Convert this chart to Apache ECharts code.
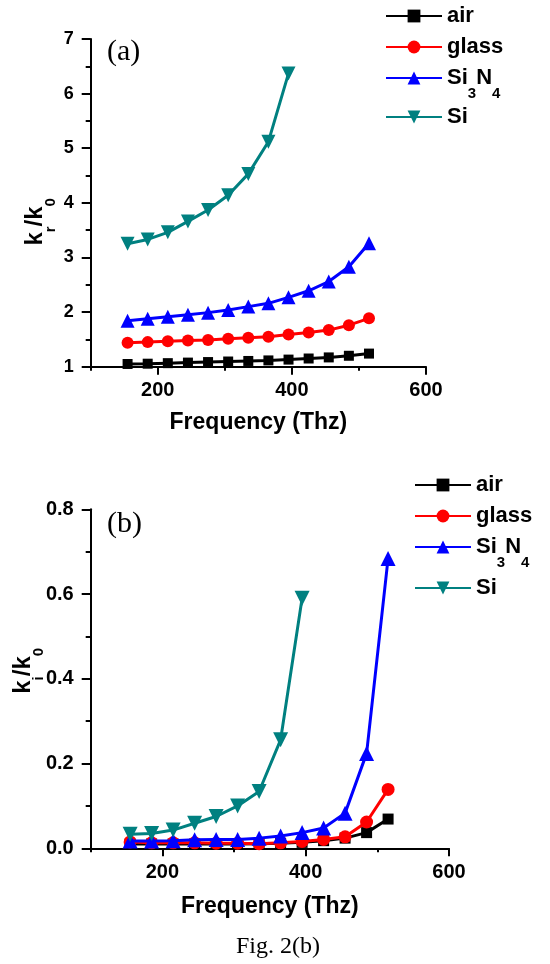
<!DOCTYPE html>
<html><head><meta charset="utf-8">
<script src="https://cdn.jsdelivr.net/npm/echarts@6/dist/echarts.min.js"></script>
<style>html,body{margin:0;padding:0;background:#fff}#c{width:550px;height:964px}</style>
</head><body><div id="c"></div>
<script>
// ---- data ----
const freq = [155, 185, 215, 245, 275, 305, 335, 365, 395, 425, 455, 485, 515];
const krAir   = [1.05, 1.055, 1.065, 1.075, 1.085, 1.095, 1.105, 1.115, 1.13, 1.15, 1.17, 1.20, 1.24];
const krGlass = [1.44, 1.45, 1.465, 1.48, 1.49, 1.51, 1.53, 1.55, 1.59, 1.625, 1.67, 1.76, 1.885];
const krSi3N4 = [1.84, 1.88, 1.915, 1.95, 1.99, 2.04, 2.10, 2.16, 2.27, 2.39, 2.56, 2.83, 3.26];
const krSi    = [3.25, 3.33, 3.46, 3.66, 3.87, 4.14, 4.53, 5.12, 6.37];
const kiAir   = [0.010, 0.010, 0.010, 0.010, 0.010, 0.010, 0.011, 0.012, 0.014, 0.018, 0.024, 0.037, 0.069];
const kiGlass = [0.015, 0.013, 0.013, 0.013, 0.012, 0.012, 0.011, 0.013, 0.016, 0.021, 0.027, 0.062, 0.139];
const kiSi3N4 = [0.017, 0.017, 0.018, 0.020, 0.021, 0.021, 0.024, 0.029, 0.037, 0.048, 0.083, 0.224, 0.684];
const kiSi    = [0.033, 0.035, 0.043, 0.059, 0.075, 0.100, 0.134, 0.256, 0.590];
const xMajorTicks = [200, 400, 600];
const xMinorTicks = [100, 300, 500];
const seriesNames = ['air', 'glass', 'Si3N4', 'Si'];

// ---- styling ----
const SANS = '"Liberation Sans", Arial, sans-serif';
const SERIF = '"Liberation Serif", "Times New Roman", serif';
const colors = ['#000000', '#ff0000', '#0000ff', '#008080'];
const symbols = ['rect', 'circle', 'triangle', 'triangle'];
const rotates = [0, 0, 0, 180];

function pairs(vals) { return vals.map((v, i) => [freq[i], v]); }

const axisLineStyle = { color: '#000', width: 2 };

function xAxes(grid, labelSize, nameGap) {
  return [
    {
      type: 'value', gridIndex: grid, position: 'bottom', min: 100, max: 600,
      axisLine: { show: true, onZero: false, lineStyle: axisLineStyle },
      axisTick: { show: true, customValues: xMajorTicks, length: 8, lineStyle: { width: 2, color: '#000' } },
      axisLabel: { customValues: xMajorTicks, margin: 14, color: '#000', fontSize: labelSize, fontWeight: 'bold', fontFamily: SANS },
      splitLine: { show: false },
      name: 'Frequency (Thz)', nameLocation: 'middle', nameGap: nameGap, nameMoveOverlap: false,
      nameTextStyle: { color: '#000', fontSize: 23, fontWeight: 'bold', fontFamily: SANS }
    },
    {
      type: 'value', gridIndex: grid, position: 'bottom', offset: 0, min: 100, max: 600,
      axisLine: { show: false, onZero: false },
      axisTick: { show: true, customValues: xMinorTicks, length: 4, lineStyle: { width: 2, color: '#000' } },
      axisLabel: { show: false },
      splitLine: { show: false }
    }
  ];
}

const subStyle = { fontSize: 15, fontWeight: 'bold', fontFamily: SANS, color: '#000', verticalAlign: 'bottom', padding: [0, 0, -8, 0] };
const yRich = {
  m: { fontSize: 24, fontWeight: 'bold', fontFamily: SANS, color: '#000', lineHeight: 30 },
  s: subStyle
};
const legendRich = {
  n: { fontSize: 22, fontWeight: 'bold', fontFamily: SANS, color: '#000', lineHeight: 30 },
  s: subStyle
};
function legendFmt(name) {
  if (name === 'Si3N4') return '{n|Si}{s|3}{n|N}{s|4}';
  return '{n|' + name + '}';
}
function legend(data, left, top) {
  return {
    data: data, left: left, top: top, orient: 'vertical', padding: 0,
    itemWidth: 56, itemHeight: 16, itemGap: 1,
    formatter: legendFmt, selectedMode: false,
    textStyle: { fontSize: 22, fontWeight: 'bold', fontFamily: SANS, color: '#000', lineHeight: 30, rich: legendRich }
  };
}

function makeSeries(xIdx, yIdx, arrays, sizes) {
  return arrays.map((arr, k) => ({
    type: 'line', name: seriesNames[k], xAxisIndex: xIdx, yAxisIndex: yIdx,
    data: pairs(arr),
    symbol: symbols[k], symbolRotate: rotates[k], symbolSize: sizes[k],
    showAllSymbol: true,
    lineStyle: { color: colors[k], width: 3 },
    itemStyle: { color: colors[k], opacity: 1 },
    emphasis: { disabled: true },
    z: 2 + k
  }));
}

const option = {
  backgroundColor: '#fff',
  animation: false,
  grid: [
    { left: 90.7, top: 39, width: 335.3, height: 327.7, containLabel: false, outerBoundsMode: 'none' },
    { left: 90.7, top: 509.3, width: 358.3, height: 339, containLabel: false, outerBoundsMode: 'none' }
  ],
  xAxis: [...xAxes(0, 20, 44), ...xAxes(1, 20, 47)],
  yAxis: [
    {
      type: 'value', gridIndex: 0, min: 1, max: 7, interval: 1,
      axisLine: { show: true, onZero: false, lineStyle: axisLineStyle },
      axisTick: { show: true, length: 9, lineStyle: { width: 2, color: '#000' } },
      minorTick: { show: true, splitNumber: 2, length: 5, lineStyle: { width: 2, color: '#000' } },
      axisLabel: { margin: 17, color: '#000', fontSize: 18, fontWeight: 'bold', fontFamily: SANS },
      splitLine: { show: false }, minorSplitLine: { show: false },
      name: '{m|k}{s|r}{m|/k}{s|0}', nameLocation: 'middle', nameRotate: 90, nameGap: 40, nameMoveOverlap: false,
      nameTextStyle: { rich: yRich, padding: [0, 38, 0, 0] }
    },
    {
      type: 'value', gridIndex: 1, min: 0, max: 0.8, interval: 0.2,
      axisLine: { show: true, onZero: false, lineStyle: axisLineStyle },
      axisTick: { show: true, length: 9, lineStyle: { width: 2, color: '#000' } },
      minorTick: { show: true, splitNumber: 2, length: 5, lineStyle: { width: 2, color: '#000' } },
      axisLabel: { margin: 17, color: '#000', fontSize: 20, fontWeight: 'bold', fontFamily: SANS,
                   formatter: v => v.toFixed(1) },
      splitLine: { show: false }, minorSplitLine: { show: false },
      name: '{m|k}{s|i}{m|/k}{s|0}', nameLocation: 'middle', nameRotate: 90, nameGap: 52, nameMoveOverlap: false,
      nameTextStyle: { rich: yRich, padding: [0, 0, 0, 16] }
    }
  ],
  legend: [
    legend(['air', 'glass', 'Si3N4'], 385, 1),
    legend(['Si'], 385, 102),
    legend(['air', 'glass', 'Si3N4'], 414, 470),
    legend(['Si'], 414, 573)
  ],
  graphic: [
    { type: 'text', left: 107, top: 37, style: { text: '(a)', font: '30px ' + SERIF, fill: '#000' } },
    { type: 'text', left: 107, top: 509, style: { text: '(b)', font: '30px ' + SERIF, fill: '#000' } },
    { type: 'text', left: 236, top: 935, style: { text: 'Fig. 2(b)', font: '24px ' + SERIF, fill: '#000' } }
  ],
  series: [
    ...makeSeries(0, 0, [krAir, krGlass, krSi3N4, krSi], [10, 12, 14, 14]),
    ...makeSeries(2, 1, [kiAir, kiGlass, kiSi3N4, kiSi], [11, 13, 15, 15])
  ]
};

const chart = echarts.init(document.getElementById('c'), null, { renderer: 'canvas' });
chart.setOption(option);
</script>
</body></html>
